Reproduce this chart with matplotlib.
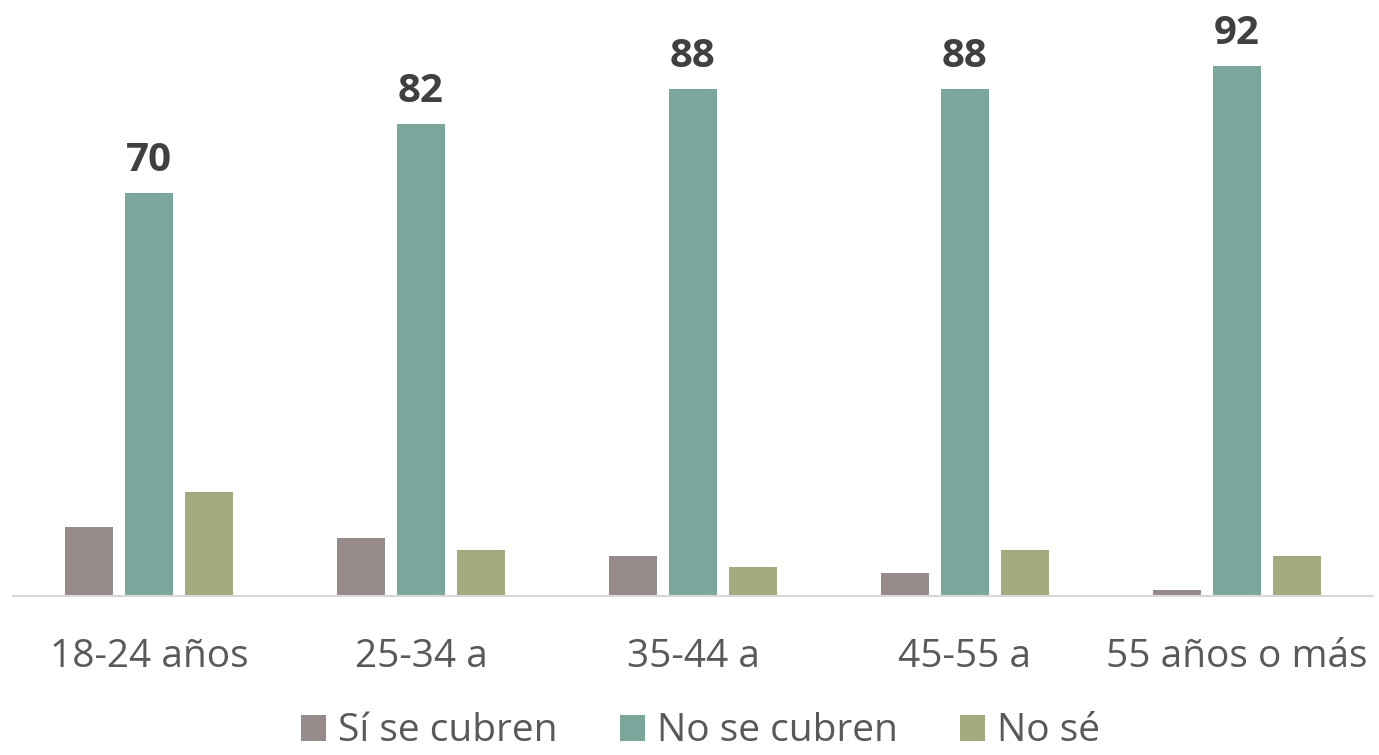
import matplotlib.pyplot as plt
import numpy as np

plt.rcParams['font.family'] = ['Open Sans', 'DejaVu Sans']

categories = ['18-24 años', '25-34 a', '35-44 a', '45-55 a', '55 años o más']
series_names = ['Sí se cubren', 'No se cubren', 'No sé']
si_se_cubren = [12, 10, 7, 4, 1]
no_se_cubren = [70, 82, 88, 88, 92]
no_se = [18, 8, 5, 8, 7]
colors = ['#968B8A', '#7BA69C', '#A4AA7E']

fig = plt.figure(figsize=(13.79, 7.55), dpi=100)
ax = fig.add_axes([0.0094, 0.2106, 0.9862, 0.7894])

x = np.arange(len(categories))
width = 0.176
offset = 0.22
all_series = [si_se_cubren, no_se_cubren, no_se]
for i, vals in enumerate(all_series):
    bars = ax.bar(x + (i - 1) * offset, vals, width, color=colors[i],
                  label=series_names[i], zorder=2)
    if i == 1:
        for b, v in zip(bars, vals):
            ax.text(b.get_x() + b.get_width() / 2, v + 2.3, str(v),
                    ha='center', va='bottom', fontsize=29, fontweight='bold',
                    color='#404040')

ax.set_xlim(-0.5, len(categories) - 0.5)
ax.set_ylim(0, 103.5)
ax.set_yticks([])
ax.set_xticks(x)
ax.set_xticklabels(categories, fontsize=28, color='#595959')
ax.tick_params(axis='x', length=0, pad=30)
for side in ['top', 'right', 'left']:
    ax.spines[side].set_visible(False)
ax.spines['bottom'].set_color('#D9D9D9')
ax.spines['bottom'].set_linewidth(1.5)

fig.legend(loc='lower center', bbox_to_anchor=(0.508, -0.04), ncol=3,
           frameon=False, fontsize=28, labelcolor='#595959',
           handlelength=0.65, handleheight=0.65, handletextpad=0.3,
           columnspacing=1.6)

fig.savefig('out.png', dpi=100)
